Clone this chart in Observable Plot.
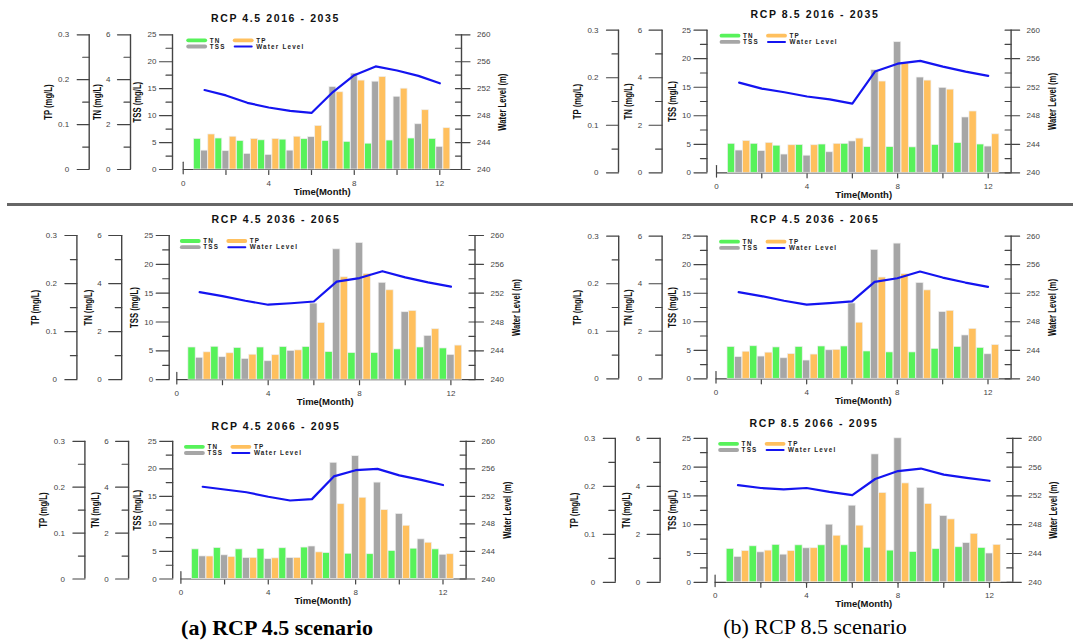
<!DOCTYPE html>
<html><head><meta charset="utf-8">
<script src="https://cdn.jsdelivr.net/npm/d3@7"></script>
<script src="https://cdn.jsdelivr.net/npm/@observablehq/plot@0.6"></script>
<style>
body{margin:0;background:#fff;}
#wrap{position:relative;width:1073px;height:641px;overflow:hidden;background:#fff;}
.panel{position:absolute;}
.sep{position:absolute;left:7px;top:202.5px;width:1066px;height:3.5px;background:#666;}
.cap{position:absolute;font-family:"Liberation Serif","Times New Roman",serif;font-size:22px;transform:translate(-50%,-50%);white-space:nowrap;color:#000;}
</style></head><body><div id="wrap"><div class="sep"></div></div>
<script>
// ---------- data ----------
const months = [1,2,3,4,5,6,7,8,9,10,11,12];
const xTickLabels = [0,4,8,12];
const tssTicks = [0,5,10,15,20,25];
const tnTicks = [0,2,4,6];
const tpTicks = [0,0.1,0.2,0.3];
const wlTicks = [240,244,248,252,256,260];

// RCP 4.5 2016-2035
const tn45a  = [1.36,1.38,1.27,1.30,1.33,1.35,1.27,1.23,1.15,1.29,1.38,1.36];
const tss45a = [3.5,3.4,2.9,2.7,3.5,6.0,15.3,17.8,16.3,13.5,8.4,4.2];
const tp45a  = [0.078,0.073,0.068,0.068,0.073,0.097,0.172,0.198,0.206,0.180,0.132,0.092];
const wl45a  = [251.8,251.0,249.9,249.2,248.7,248.4,251.5,254.0,255.3,254.7,253.9,252.8];
// RCP 8.5 2016-2035
const tn85a  = [1.22,1.22,1.14,1.17,1.19,1.22,1.08,1.08,1.07,1.17,1.25,1.19];
const tss85a = [3.9,3.8,3.2,3.0,3.6,5.5,18.0,22.9,16.7,14.9,9.7,4.6];
const tp85a  = [0.067,0.063,0.058,0.058,0.061,0.072,0.192,0.230,0.194,0.175,0.129,0.081];
const wl85a  = [252.65,251.8,251.3,250.7,250.3,249.7,254.2,255.3,255.7,254.9,254.2,253.6];
// RCP 4.5 2036-2065
const tn45b  = [1.34,1.37,1.32,1.34,1.36,1.36,1.15,1.11,1.11,1.26,1.34,1.30];
const tss45b = [3.8,3.9,3.6,3.2,5.0,13.2,22.6,23.7,16.8,11.7,7.6,4.3];
const tp45b  = [0.057,0.055,0.052,0.051,0.061,0.118,0.213,0.220,0.186,0.143,0.105,0.071];
const wl45b  = [252.15,251.6,250.95,250.4,250.6,250.85,253.6,254.1,255.05,254.2,253.5,252.9];
// RCP 4.5 2066-2095
const tn45c  = [1.29,1.35,1.29,1.31,1.34,1.37,1.13,1.10,1.08,1.22,1.32,1.29];
const tss45c = [4.1,4.3,3.8,3.6,3.8,5.9,21.1,22.3,17.5,11.8,7.2,4.4];
const tp45c  = [0.049,0.048,0.046,0.045,0.046,0.058,0.163,0.177,0.150,0.116,0.079,0.054];
const wl45c  = [253.4,253.0,252.6,251.95,251.4,251.6,254.9,255.8,256.0,255.05,254.4,253.65];
// RCP 8.5 2066-2095
const tn85c  = [1.39,1.50,1.56,1.54,1.54,1.54,1.44,1.32,1.26,1.38,1.46,1.43];
const tss85c = [4.4,5.2,4.8,5.9,10.0,13.3,22.2,25.0,16.4,11.5,6.8,5.0];
const tp85c  = [0.065,0.066,0.065,0.071,0.097,0.118,0.186,0.206,0.163,0.131,0.101,0.078];
const wl85c  = [253.5,253.1,252.9,253.1,252.55,252.1,254.35,255.45,255.8,254.95,254.5,254.1];

// ---------- layout ----------
const panels = [
 {title:"RCP 4.5 2016 - 2035", tn:tn45a, tss:tss45a, tp:tp45a, wl:wl45a, left:0, top:0, w:540, tpAx:88.7, tnAx:130, tssAx:172, wlAx:461, x0:182.7, x12:439.3, y0:169, y25:34.3, tx:275, ty:18.3},
 {title:"RCP 8.5 2016 - 2035", tn:tn85a, tss:tss85a, tp:tp85a, wl:wl85a, left:540, top:0, w:533, tpAx:78, tnAx:121.6, tssAx:166.5, wlAx:470.6, x0:176, x12:447.7, y0:172.3, y25:29.7, tx:274.5, ty:14},
 {title:"RCP 4.5 2036 - 2065", tn:tn45b, tss:tss45b, tp:tp45b, wl:wl45b, left:0, top:200, w:540, tpAx:76.4, tnAx:121.2, tssAx:168.7, wlAx:474.5, x0:176.3, x12:450.4, y0:179.2, y25:35, tx:275.5, ty:19.3},
 {title:"RCP 4.5 2036 - 2065", tn:tn45b, tss:tss45b, tp:tp45b, wl:wl45b, left:540, top:200, w:533, tpAx:78.2, tnAx:121.6, tssAx:166.5, wlAx:470.6, x0:175.5, x12:447.5, y0:178.3, y25:35.7, tx:274.5, ty:19.3},
 {title:"RCP 4.5 2066 - 2095", tn:tn45c, tss:tss45c, tp:tp45c, wl:wl45c, left:0, top:400, w:540, tpAx:84.4, tnAx:128.1, tssAx:172.2, wlAx:465.6, x0:180.4, x12:442.5, y0:178.5, y25:40.8, tx:275.5, ty:26},
 {title:"RCP 8.5 2066 - 2095", tn:tn85c, tss:tss85c, tp:tp85c, wl:wl85c, left:540, top:400, w:533, tpAx:74.8, tnAx:119.6, tssAx:166.5, wlAx:472.3, x0:174.6, x12:449, y0:181.8, y25:37.8, tx:273.5, ty:22.7}
];

const COL = {TN:"#57f25a", TSS:"#a6a6a6", TP:"#ffc05e", WL:"#1414f0"};
const AX = "#444", LAB = "#444";
const toTN = v => v*25/6, toTP = v => v*25/0.3, toWL = v => (v-240)*25/20;
const spike = {draw(ctx, l){ ctx.moveTo(0,0); ctx.lineTo(0,-l); }};
const BW = 0.32;
const AXT = {fontSize:11, fontWeight:"bold", fill:"#111", rotate:-90, textAnchor:"middle", lineAnchor:"middle"};

function leftAxis(p, pos, vals, conv, minors, fmt, majorLen, labelOff, title, titleOff) {
  const d = pos - p.tssAx;
  return [
    Plot.ruleX([0], {y1:0, y2:25, dx: pos - p.x0, stroke: AX, strokeWidth: 1.4}),
    Plot.vector(vals.map(conv), {y: v=>v, frameAnchor:"left", dx:d, length:majorLen, rotate:-90, anchor:"start", shape:spike, stroke:AX, strokeWidth:1.2}),
    Plot.vector(minors.map(conv), {y: v=>v, frameAnchor:"left", dx:d, length:6.5, rotate:-90, anchor:"start", shape:spike, stroke:AX, strokeWidth:1.2}),
    Plot.text(vals, {y: v=>conv(v), frameAnchor:"left", dx: d - labelOff, text: fmt, textAnchor:"end", lineAnchor:"middle", fontSize:8, fill:LAB}),
    Plot.text([title], {frameAnchor:"left", dx: d - titleOff, ...AXT})
  ];
}

function makePanel(p) {
  const H = 200;
  const rows = k => months.map((m,i) => ({m, v: k==="TN" ? toTN(p.tn[i]) : k==="TP" ? toTP(p.tp[i]) : p.tss[i]}));
  const off = {TN:-1/3, TSS:0, TP:1/3};
  const fx = p.x0 - p.tssAx; // x0 relative to frame left
  const marks = [];
  marks.push(Plot.ruleY([0], {insetLeft: fx, stroke: AX, strokeWidth: 1.2}));
  for (const k of ["TN","TSS","TP"]) {
    marks.push(Plot.rectY(rows(k), {x1: d=>d.m+off[k]-BW/2, x2: d=>d.m+off[k]+BW/2, y:"v", fill: COL[k], stroke:"#eeeeee", strokeWidth:0.7}));
  }
  marks.push(Plot.line(months.map((m,i)=>({m, v: toWL(p.wl[i])})), {x:"m", y:"v", stroke: COL.WL, strokeWidth: 2.2}));
  // left axes
  marks.push(...leftAxis(p, p.tpAx, tpTicks, toTP, [0.05,0.15,0.25], v => v===0 ? "0" : v.toFixed(1), 12, 20, "TP (mg/L)", 41));
  marks.push(...leftAxis(p, p.tnAx, tnTicks, toTN, [1,3,5], v => String(v), 13, 20, "TN (mg/L)", 33.5));
  marks.push(...leftAxis(p, p.tssAx, tssTicks, v=>v, [2.5,7.5,12.5,17.5,22.5], v => String(v), 13, 16, "TSS (mg/L)", 35));
  // right axis (water level)
  const wlMin = [242,246,250,254,258];
  marks.push(Plot.ruleX([0], {y1:0, y2:25, dx: p.wlAx - p.x0, stroke: AX, strokeWidth: 1.4}));
  marks.push(Plot.vector(wlTicks.map(toWL), {y:v=>v, frameAnchor:"right", length:8.5, rotate:90, anchor:"start", shape:spike, stroke:AX, strokeWidth:1.2}));
  marks.push(Plot.vector(wlTicks.concat(wlMin).map(toWL), {y:v=>v, frameAnchor:"right", length:6, rotate:-90, anchor:"start", shape:spike, stroke:AX, strokeWidth:1.2}));
  marks.push(Plot.text(wlTicks, {y: v=>toWL(v), frameAnchor:"right", dx:15.5, text: v=>String(v), textAnchor:"start", lineAnchor:"middle", fontSize:8, fill:LAB}));
  marks.push(Plot.text(["Water Level (m)"], {frameAnchor:"right", dx:41, ...AXT}));
  // x axis
  marks.push(Plot.vector([0], {x:v=>v, frameAnchor:"bottom", dy:4.3, length:11.6, rotate:0, anchor:"start", shape:spike, stroke:AX, strokeWidth:1.2}));
  marks.push(Plot.vector([2,4,6,8,10,12], {x:v=>v, frameAnchor:"bottom", dy:1, length:4, rotate:180, anchor:"start", shape:spike, stroke:AX, strokeWidth:1.2}));
  marks.push(Plot.text(xTickLabels, {x:v=>v, frameAnchor:"bottom", dy:13.5, text:v=>String(v), textAnchor:"middle", lineAnchor:"middle", fontSize:8, fill:LAB}));
  const midX = p.x0 + 6.5*(p.x12-p.x0)/12 - p.tssAx;
  marks.push(Plot.text(["Time(Month)"], {frameAnchor:"bottom-left", dx: midX, dy:22, textAnchor:"middle", lineAnchor:"middle", fontSize:9.5, fontWeight:"bold", fill:"#111"}));
  // title
  marks.push(Plot.text([p.title], {frameAnchor:"top-left", dx: p.tx - p.tssAx, dy: p.ty - p.y25, textAnchor:"middle", lineAnchor:"middle", fontSize:10.5, fontWeight:"bold", fill:"#111"}));
  // legend
  const lg = [
    {k:"TN", label:"TN", c:0, r:0, line:false},
    {k:"TP", label:"TP", c:1, r:0, line:false},
    {k:"TSS", label:"TSS", c:0, r:1, line:false},
    {k:"WL", label:"Water Level", c:1, r:1, line:true}
  ];
  for (const it of lg) {
    const sx = fx + (it.c ? 51.5 : 5);
    const sy = it.r ? 11.7 : 5.5;
    marks.push(Plot.vector([0], {frameAnchor:"top-left", dx:sx, dy:sy, length:17, rotate:90, anchor:"start", shape:spike, stroke:COL[it.k], strokeWidth: it.line ? 2 : 3.8}));
    marks.push(Plot.text([it.label], {frameAnchor:"top-left", dx: sx + 21.5, dy: sy + 0.2, textAnchor:"start", lineAnchor:"middle", fontSize:6.3, fontWeight:"bold", fill:"#222"}));
  }

  const svg = Plot.plot({
    width: p.w, height: H,
    marginLeft: p.tssAx, marginRight: p.w - p.wlAx, marginTop: p.y25, marginBottom: H - p.y0,
    x: {type:"linear", domain:[0,12], range:[p.x0, p.x12], axis:null},
    y: {type:"linear", domain:[0,25], range:[p.y0, p.y25], axis:null},
    style: {fontFamily:'"Liberation Sans", Arial, sans-serif', background:"none", overflow:"visible"},
    marks
  });
  const s = d3.select(svg);
  s.selectAll("text").filter(function(){ return /^RCP/.test(this.textContent); }).attr("letter-spacing", "1.6");
  s.selectAll("text").filter(function(){ return ["TN","TP","TSS","Water Level"].includes(this.textContent); }).attr("letter-spacing", "1.2");
  s.selectAll("text").filter(function(){ return /mg\/L|Water Level \(m\)/.test(this.textContent); }).each(function(){
    const t = this.getAttribute("transform");
    if (t) this.setAttribute("transform", t + " scale(0.7,1)");
  });
  svg.classList.add("panel");
  svg.style.left = p.left + "px";
  svg.style.top = p.top + "px";
  svg.style.position = "absolute";
  return svg;
}

const wrap = document.getElementById("wrap");
for (const p of panels) wrap.appendChild(makePanel(p));

const caps = [
  {text:"(a) RCP 4.5 scenario", x:277, y:628, bold:true},
  {text:"(b) RCP 8.5 scenario", x:815, y:627, bold:false}
];
for (const c of caps) {
  const el = document.createElement("div");
  el.className = "cap";
  el.textContent = c.text;
  el.style.left = c.x + "px";
  el.style.top = c.y + "px";
  el.style.fontWeight = c.bold ? "bold" : "normal";
  wrap.appendChild(el);
}
</script>
</body></html>
